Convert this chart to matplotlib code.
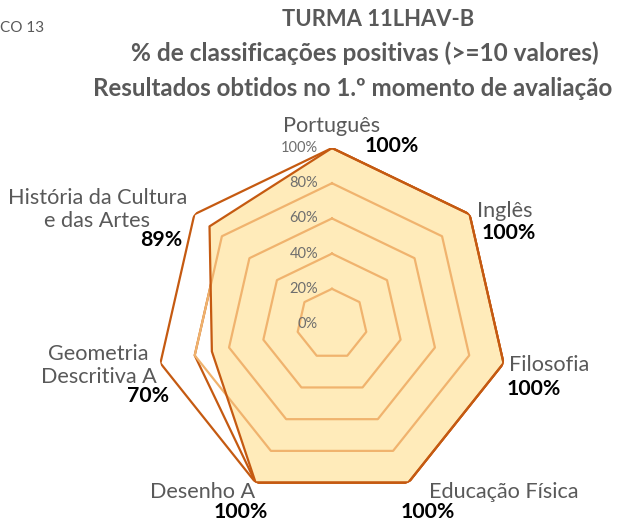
import numpy as np
import matplotlib
matplotlib.use("Agg")
import matplotlib.pyplot as plt

plt.rcParams['font.family'] = ['Lato', 'DejaVu Sans']

categories = ["Português", "Inglês", "Filosofia", "Educação Física", "Desenho A",
              "Geometria\nDescritiva A", "História da Cultura\ne das Artes"]
reference_100 = [100, 100, 100, 100, 100, 100, 100]
previous = [100, 100, 100, 100, 100, 80, 80]
values = [100, 100, 100, 100, 100, 70, 89]
value_labels = ["100%", "100%", "100%", "100%", "100%", "70%", "89%"]
rings = [20, 40, 60, 80]
tick_levels = [0, 20, 40, 60, 80, 100]

# label offsets in pixels (category labels from axis end, value labels from data point)
cat_off = [(0, 22), (35, 3), (46, -2), (95, -9), (-53, -9), (-62, -2), (-97, 5)]
val_off = [(60, 2), (39, -19), (30, -26), (19, -29), (-15, -29), (-64, -45), (-48, -14)]

DARK = "#C55A11"
GRID = "#F0B36E"
FILL = "#FFEBBA"
GRAY = "#595959"

fig = plt.figure(figsize=(6.17, 5.22), dpi=100)
ax = fig.add_axes([0.2528, 0.0421, 0.5705, 0.6743], projection='polar')
ax.set_theta_offset(np.pi / 2)
ax.set_theta_direction(-1)
ax.set_ylim(0, 100)
ax.set_axis_off()

n = len(categories)
ang = np.linspace(0, 2 * np.pi, n, endpoint=False)
angc = np.append(ang, ang[0])

def closed(v):
    return np.append(v, v[0])

# previous series line (under fill)
ax.plot(angc, closed(previous), color=DARK, lw=1.6, zorder=1)
# outer reference line
ax.plot(angc, closed(reference_100), color=DARK, lw=1.6, zorder=2)
# filled series
ax.fill(angc, closed(values), color=FILL, zorder=1.5, lw=0)
# grid rings
for r in rings:
    ax.plot(angc, [r] * (n + 1), color=GRID, lw=1.6, zorder=3)
ax.plot(angc, closed(values), color=DARK, lw=1.6, zorder=4)

# radial tick labels
for t in tick_levels:
    ax.annotate(f"{t}%", xy=(0, t), xytext=(-14, 0), textcoords='offset pixels',
                ha='right', va='center', fontsize=10.5, color="#6E6E6E",
                annotation_clip=False, zorder=5)

# category labels
for i, c in enumerate(categories):
    ax.annotate(c, xy=(ang[i], 100), xytext=cat_off[i], textcoords='offset pixels',
                ha='center', va='center', fontsize=15.6, color=GRAY,
                annotation_clip=False, linespacing=1.2)

# value labels
for i, lab in enumerate(value_labels):
    ax.annotate(lab, xy=(ang[i], values[i]), xytext=val_off[i], textcoords='offset pixels',
                ha='center', va='center', fontsize=15.3, fontweight='bold', color='black',
                annotation_clip=False)

fig.text(378 / 617, 1 - 20 / 522, "TURMA 11LHAV-B", ha='center', va='center',
         fontsize=15.8, fontweight='bold', color=GRAY)
fig.text(365 / 617, 1 - 53 / 522, "% de classificações positivas (>=10 valores)", ha='center',
         va='center', fontsize=17.6, fontweight='bold', color=GRAY)
fig.text(353 / 617, 1 - 88 / 522, "Resultados obtidos no 1.º momento de avaliação", ha='center',
         va='center', fontsize=17.4, fontweight='bold', color=GRAY)
fig.text(0, 1 - 28 / 522, "CO 13", ha='left', va='center', fontsize=11, color=GRAY)

fig.savefig("out.png", dpi=100)
